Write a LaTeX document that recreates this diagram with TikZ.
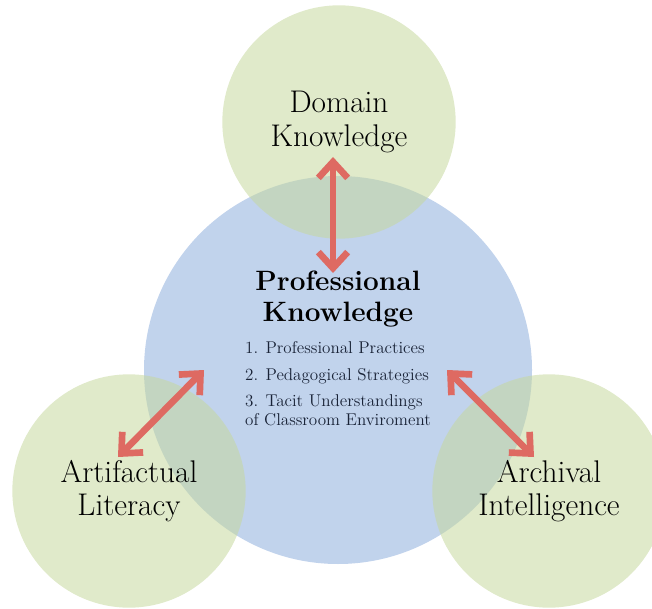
\documentclass[tikz,border=0pt]{standalone}
\usepackage{tikz}
\usetikzlibrary{arrows.meta,positioning}
\definecolor{blueball}{RGB}{142,174,220}
\definecolor{greenball}{RGB}{198,216,158}
\definecolor{arrowred}{RGB}{222,106,98}
\definecolor{listtext}{RGB}{25,35,55}

\begin{document}
\begin{tikzpicture}[x = 0.75pt, y = -0.75pt]
	\tikzstyle{ball} = [circle, inner sep = 0pt, fill opacity = 0.55, text opacity = 1, align = center, font = \fontsize{23.5}{25}\selectfont]
	\tikzstyle{link} = [draw = arrowred, line width = 5pt, {Straight Barb[length = 12pt, width = 22pt]}-{Straight Barb[length = 12pt, width = 22pt]}]
\useasboundingbox (0,0) rectangle (652,609);
\node[ball, fill = blueball, minimum size = 291pt] (0) at (338, 370) {};
\node[ball, fill = greenball, minimum size = 175pt] (1) at (339, 122) {Domain\\Knowledge};
\node[ball, fill = greenball, minimum size = 175pt] (2) at (129, 491) {Artifactual\\Literacy};
\node[ball, fill = greenball, minimum size = 175pt] (3) at (549, 491) {Archival\\Intelligence};

\node[align = center, font = \fontsize{21}{23.5}\selectfont\bfseries] (4) at (338, 299) {Professional\\Knowledge};
\node[align = left, inner sep = 0pt, text = listtext, font = \fontsize{12.8}{14}\selectfont, below = 7pt of 4] (5) {1. Professional Practices\\[6pt]2. Pedagogical Strategies\\[6pt]3. Tacit Understandings\\of Classroom Enviroment};

	% arrow ends
\coordinate (6) at (333, 157);
\coordinate (7) at (333, 273);
\coordinate (8) at (204, 370);
\coordinate (9) at (118, 457);
\coordinate (10) at (447, 370);
\coordinate (11) at (534, 457);
	\path[link] (6) -- (7);
	\path[link] (8) -- (9);
	\path[link] (10) -- (11);
\end{tikzpicture}
\end{document}
